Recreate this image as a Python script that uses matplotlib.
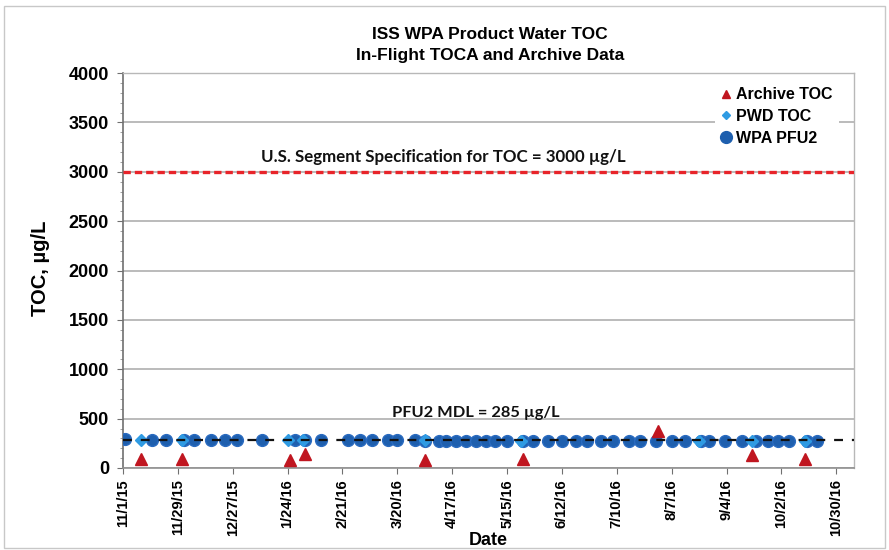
import matplotlib
matplotlib.use("Agg")
import matplotlib.pyplot as plt
from matplotlib.lines import Line2D
from matplotlib.patches import Rectangle
import pandas as pd

# ---------------- data ----------------
pfu2_dates = ["2015-11-02", "2015-11-16", "2015-11-23", "2015-12-02",
              "2015-12-07", "2015-12-16", "2015-12-23", "2015-12-29", "2016-01-11",
              "2016-01-28", "2016-02-02", "2016-02-10", "2016-02-24", "2016-03-01",
              "2016-03-07", "2016-03-15", "2016-03-20", "2016-03-29", "2016-04-03",
              "2016-04-10", "2016-04-14", "2016-04-19", "2016-04-24", "2016-04-29",
              "2016-05-04", "2016-05-09", "2016-05-15", "2016-05-23", "2016-05-28",
              "2016-06-05", "2016-06-12", "2016-06-19", "2016-06-25", "2016-07-02",
              "2016-07-08", "2016-07-16", "2016-07-22", "2016-07-30", "2016-08-07",
              "2016-08-14", "2016-08-22", "2016-08-26", "2016-09-03", "2016-09-12",
              "2016-09-19", "2016-09-25", "2016-09-30", "2016-10-06", "2016-10-15",
              "2016-10-20"]
pfu2_toc = [290, 288, 287, 286, 285, 285, 284, 284, 282,
            282, 281, 281, 280, 280, 280, 279, 279, 279, 278,
            278, 278, 278, 277, 277, 277, 277, 276, 276, 276,
            276, 276, 275, 275, 275, 275, 275, 274, 274, 274,
            274, 274, 273, 273, 273, 273, 272, 272, 272, 272,
            271]

pwd_dates = ["2015-11-10", "2015-12-01", "2016-01-24", "2016-02-01", "2016-04-03",
             "2016-05-22", "2016-08-21", "2016-09-17", "2016-10-14"]
pwd_toc = [285, 285, 283, 282, 280, 278, 276, 275, 273]

archive_dates = ["2015-11-10", "2015-12-01", "2016-01-25", "2016-02-02", "2016-04-03",
                 "2016-05-23", "2016-07-31", "2016-09-17", "2016-10-14"]
archive_toc = [95, 95, 85, 140, 85, 95, 370, 130, 95]

spec_limit = 3000
pfu2_mdl = 285

x_start = "2015-11-01"
x_end = "2016-11-08"
tick_dates = ["2015-11-01", "2015-11-29", "2015-12-27", "2016-01-24", "2016-02-21",
              "2016-03-20", "2016-04-17", "2016-05-15", "2016-06-12", "2016-07-10",
              "2016-08-07", "2016-09-04", "2016-10-02", "2016-10-30"]
tick_labels = ["11/1/15", "11/29/15", "12/27/15", "1/24/16", "2/21/16", "3/20/16",
               "4/17/16", "5/15/16", "6/12/16", "7/10/16", "8/7/16", "9/4/16",
               "10/2/16", "10/30/16"]

title_text = "ISS WPA Product Water TOC\nIn-Flight TOCA and Archive Data"
spec_text = "U.S. Segment Specification for TOC = 3000 \u00b5g/L"
mdl_text = "PFU2 MDL = 285 \u00b5g/L"

# ---------------- plot ----------------
plt.rcParams['font.family'] = ['Liberation Sans', 'DejaVu Sans']
plt.rcParams['font.weight'] = 'bold'

W, H = 889, 550
fig = plt.figure(figsize=(W / 100, H / 100), dpi=100)
ax = fig.add_axes([123 / W, 1 - 468 / H, (854 - 123) / W, (468 - 73) / H])

pd_pfu2 = pd.to_datetime(pfu2_dates)
pd_pwd = pd.to_datetime(pwd_dates)
pd_arch = pd.to_datetime(archive_dates)
xs, xe = pd.Timestamp(x_start), pd.Timestamp(x_end)

ax.set_xlim(xs, xe)
ax.set_ylim(0, 4000)

# grid
ax.set_yticks(range(0, 4001, 500))
ax.yaxis.grid(True, color='#A8A8A8', linewidth=1.1)
ax.set_axisbelow(True)

# spec line
ax.plot([xs, xe], [spec_limit, spec_limit], color='#E8242A', linewidth=2.4,
        dashes=(2.2, 1.2), zorder=3)

# data
ax.plot(pd_pfu2, pfu2_toc, linestyle='none', marker='o', markersize=8.5,
        color='#1E5FAE', markeredgecolor='#2A6BC0', zorder=4)
ax.plot(pd_pwd, pwd_toc, linestyle='none', marker='D', markersize=6.5,
        color='#2F9BE3', markeredgecolor='#2F9BE3', zorder=5)
ax.plot(pd_arch, archive_toc, linestyle='none', marker='^', markersize=8.5,
        color='#C01620', markeredgecolor='#C01620', zorder=6)

# MDL line
ax.plot([xs, xe], [pfu2_mdl, pfu2_mdl], color='#111111', linewidth=1.6,
        dashes=(4, 4), zorder=7)

# annotations
ax.text(0.438, 3150, spec_text, transform=ax.get_yaxis_transform(),
        ha='center', va='center', fontsize=12.2, fontweight='bold',
        family=['Lato', 'DejaVu Sans'], color='#111111')
ax.text(0.483, 555, mdl_text, transform=ax.get_yaxis_transform(),
        ha='center', va='center', fontsize=11.8, fontweight='bold',
        family=['Lato', 'DejaVu Sans'], color='#111111')

# axes styling
ax.set_xticks(pd.to_datetime(tick_dates))
ax.set_xticklabels(tick_labels, rotation=90, fontsize=10.5, fontweight='bold')
ax.set_yticks(range(0, 4001, 100), minor=True)
ax.tick_params(axis='y', which='major', labelsize=13, length=4, color='#707070', pad=6)
ax.tick_params(axis='y', which='minor', length=2, color='#909090')
ax.tick_params(axis='x', which='major', length=4, color='#707070', pad=4)
for lbl in ax.get_yticklabels():
    lbl.set_fontweight('bold')

for side in ['top', 'right']:
    ax.spines[side].set_color('#B8B8B8')
    ax.spines[side].set_linewidth(1.0)
ax.spines['left'].set_color('#707070')
ax.spines['bottom'].set_color('#909090')
ax.spines['left'].set_linewidth(1.2)
ax.spines['bottom'].set_linewidth(1.2)

ax.set_xlabel("Date", fontsize=13, fontweight='bold', labelpad=-3)
fig.text(41 / W, 1 - 268 / H, "TOC, \u00b5g/L", rotation=90, ha='center', va='center',
         fontsize=14.5, fontweight='bold')

fig.text(490 / W, 1 - 45 / H, title_text, ha='center', va='center',
         fontsize=12.5, fontweight='bold', linespacing=1.55)

# legend
handles = [
    Line2D([], [], linestyle='none', marker='^', markersize=6, color='#C01620'),
    Line2D([], [], linestyle='none', marker='D', markersize=4.5, color='#2F9BE3'),
    Line2D([], [], linestyle='none', marker='o', markersize=8.5, color='#1E5FAE'),
]
leg = ax.legend(handles, ["Archive TOC", "PWD TOC", "WPA PFU2"], loc='upper right',
                bbox_to_anchor=(0.99, 1.0), frameon=True, fancybox=False,
                edgecolor='none', facecolor='white', framealpha=1,
                handlelength=0.6, handletextpad=0.3, labelspacing=0.42,
                borderpad=0.4, prop={'weight': 'bold', 'size': 11.5})

# outer chart border
fig.patches.append(Rectangle((4 / W, 2 / H), (W - 8) / W, (H - 8) / H,
                             transform=fig.transFigure, fill=False,
                             edgecolor='#C8C8C8', linewidth=1.0))

fig.savefig("out.png", dpi=100)
